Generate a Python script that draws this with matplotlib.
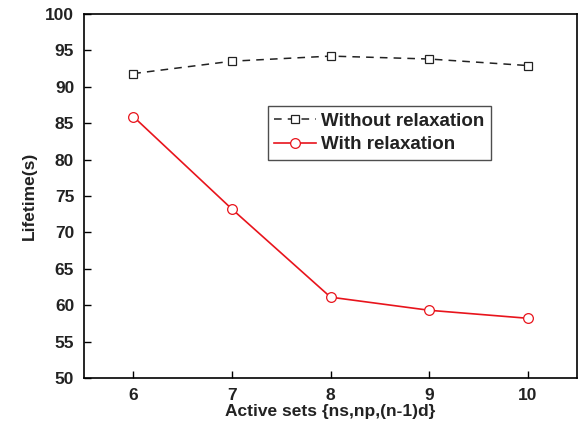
import matplotlib
matplotlib.use('Agg')
import matplotlib.pyplot as plt

plt.rcParams['font.family'] = ['Liberation Sans', 'DejaVu Sans']
plt.rcParams['font.weight'] = 'bold'

active_sets = [6, 7, 8, 9, 10]
without_relax = [91.8, 93.5, 94.2, 93.8, 92.9]
with_relax = [85.9, 73.2, 61.1, 59.3, 58.2]

fig = plt.figure(figsize=(5.83, 4.33), dpi=100)
ax = fig.add_axes([0.144, 0.127, 0.846, 0.841])

ax.plot(active_sets, without_relax, color='#222222', linestyle=(0, (5, 4)), lw=1.1,
        marker='s', markersize=6, markerfacecolor='white', markeredgecolor='#222222',
        markeredgewidth=0.9, label='Without relaxation')
ax.plot(active_sets, with_relax, color='#e8141c', lw=1.2,
        marker='o', markersize=7, markerfacecolor='white', markeredgecolor='#e8141c',
        markeredgewidth=0.9, label='With relaxation')

ax.set_xlim(5.5, 10.5)
ax.set_ylim(50, 100)
ax.set_xticks(active_sets)
ax.set_yticks(range(50, 101, 5))
ax.tick_params(direction='in', length=5, width=1, labelsize=12.5, pad=7,
               labelcolor='#222222')
for lbl in ax.get_xticklabels() + ax.get_yticklabels():
    lbl.set_fontweight('bold')
for s in ax.spines.values():
    s.set_linewidth(1.2)

ax.set_xlabel('Active sets {ns,np,(n-1)d}', fontsize=12.5, fontweight='bold',
              labelpad=1, color='#222222')
ax.set_ylabel('Lifetime(s)', fontsize=12.5, fontweight='bold', labelpad=6,
              color='#222222')

leg = ax.legend(loc='upper left', bbox_to_anchor=(0.373, 0.747),
                fontsize=13.5, frameon=True, fancybox=False,
                edgecolor='#222222', handlelength=2.2, handletextpad=0.3,
                borderpad=0.35, labelspacing=0.35, borderaxespad=0)
leg.get_frame().set_linewidth(1.0)
for t in leg.get_texts():
    t.set_color('#222222')
    t.set_fontweight('bold')

fig.savefig('out.png', dpi=100)
